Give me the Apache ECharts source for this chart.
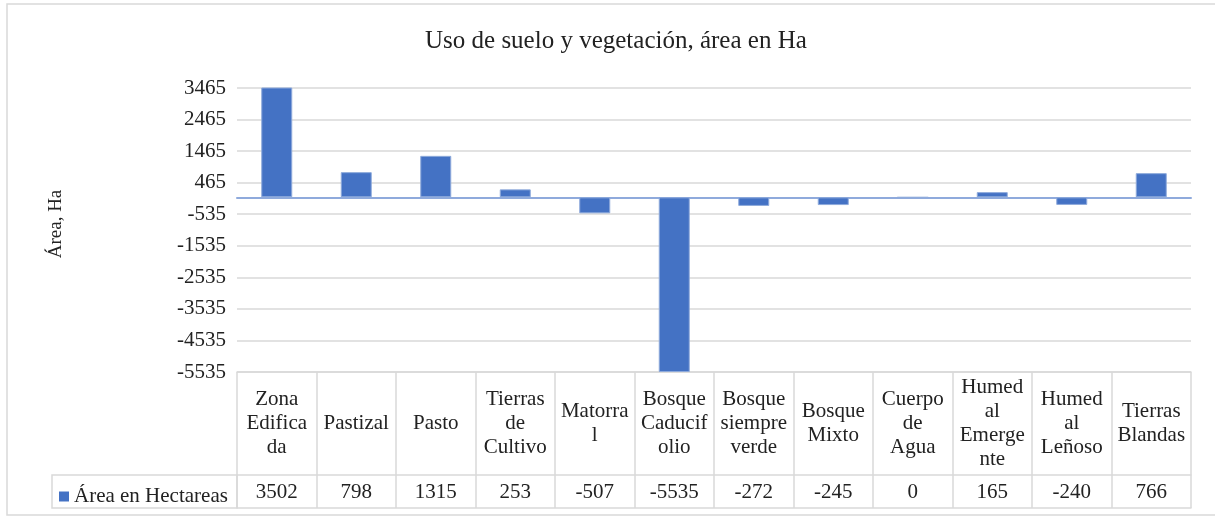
<!DOCTYPE html>
<html>
<head>
<meta charset="utf-8">
<script src="https://cdn.jsdelivr.net/npm/echarts@6/dist/echarts.min.js"></script>
<style>
  html, body { margin: 0; padding: 0; background: #fff; }
  #chart { width: 1215px; height: 517px; }
</style>
</head>
<body>
<div id="chart"></div>
<script>
// categorias (con los cortes de linea de la tabla de datos)
var categories = [
  'Zona\nEdifica\nda', 'Pastizal', 'Pasto', 'Tierras\nde\nCultivo', 'Matorra\nl',
  'Bosque\nCaducif\nolio', 'Bosque\nsiempre\nverde', 'Bosque\nMixto', 'Cuerpo\nde\nAgua',
  'Humed\nal\nEmerge\nnte', 'Humed\nal\nLeñoso', 'Tierras\nBlandas'
]
var areaValues = [3502, 798, 1315, 253, -507, -5535, -272, -245, 0, 165, -240, 766]
var seriesName = 'Área en Hectareas'
var yMin = -5535
var yMax = 3465
var yStep = 1000

var font = 'Liberation Serif'
var txt = '#222'
var gridColor = '#d9d9d9'

var chart = echarts.init(document.getElementById('chart'))

var option = {
  backgroundColor: '#fff',
  animation: false,
  title: {
    text: 'Uso de suelo y vegetación, área en Ha',
    left: 420,
    top: 24,
    textStyle: { fontFamily: font, fontSize: 25, fontWeight: 'normal', color: txt }
  },
  legend: {
    data: [seriesName],
    left: 54,
    top: 481,
    icon: 'rect',
    itemWidth: 10,
    itemHeight: 10,
    itemGap: 5,
    itemStyle: { borderWidth: 0 },
    textStyle: { fontFamily: font, fontSize: 21, color: txt, padding: [0, 0, 0, 0] }
  },
  grid: { left: 237, right: 24, top: 88, bottom: 145 },
  xAxis: [
    {
      // linea del cero
      type: 'category',
      data: categories,
      axisLine: { onZero: true, lineStyle: { color: '#8faadc', width: 2 } },
      axisTick: { show: false },
      axisLabel: { show: false }
    },
    {
      // fila de nombres de la tabla
      type: 'category',
      data: categories,
      position: 'bottom',
      axisLine: { onZero: false, lineStyle: { color: gridColor, width: 1.5 } },
      axisTick: { show: true, length: 136, lineStyle: { color: gridColor, width: 1.5 } },
      axisLabel: {
        interval: 0,
        margin: 51,
        verticalAlign: 'middle',
        fontFamily: font,
        fontSize: 21,
        lineHeight: 24,
        color: txt
      }
    },
    {
      // fila de valores
      type: 'category',
      data: areaValues.map(String),
      position: 'bottom',
      offset: 103,
      axisLine: { onZero: false, lineStyle: { color: gridColor, width: 1.5 } },
      axisTick: { show: false },
      axisLabel: {
        interval: 0,
        margin: 17,
        verticalAlign: 'middle',
        fontFamily: font,
        fontSize: 21,
        color: txt
      }
    },
    {
      // borde inferior de la tabla
      type: 'category',
      data: categories,
      position: 'bottom',
      offset: 136,
      axisLine: { onZero: false, lineStyle: { color: gridColor, width: 1.5 } },
      axisTick: { show: false },
      axisLabel: { show: false }
    }
  ],
  yAxis: {
    type: 'value',
    min: yMin,
    max: yMax,
    interval: yStep,
    name: 'Área, Ha',
    nameLocation: 'middle',
    nameGap: 171,
    nameTextStyle: { fontFamily: font, fontSize: 19, color: txt, padding: [0, 0, 0, 12] },
    axisLine: { show: false },
    axisTick: { show: false },
    axisLabel: {
      margin: 11,
      fontFamily: font,
      fontSize: 21,
      color: txt,
      formatter: function (v) { return String(v) }
    },
    splitLine: { lineStyle: { color: gridColor, width: 1.5 } }
  },
  graphic: [
    {
      // celda de la leyenda
      type: 'rect',
      shape: { x: 52, y: 475, width: 185, height: 33 },
      style: { fill: 'none', stroke: gridColor, lineWidth: 1.5 }
    },
    {
      // borde del area del grafico
      type: 'rect',
      shape: { x: 7, y: 4, width: 1215, height: 511 },
      style: { fill: 'none', stroke: gridColor, lineWidth: 1.5 }
    }
  ],
  series: [
    {
      name: seriesName,
      type: 'bar',
      xAxisIndex: 0,
      data: areaValues,
      barWidth: 31,
      clip: true,
      itemStyle: { color: '#4472c4', borderColor: '#8eaadb', borderWidth: 1 }
    }
  ]
}

chart.setOption(option)
</script>
</body>
</html>
